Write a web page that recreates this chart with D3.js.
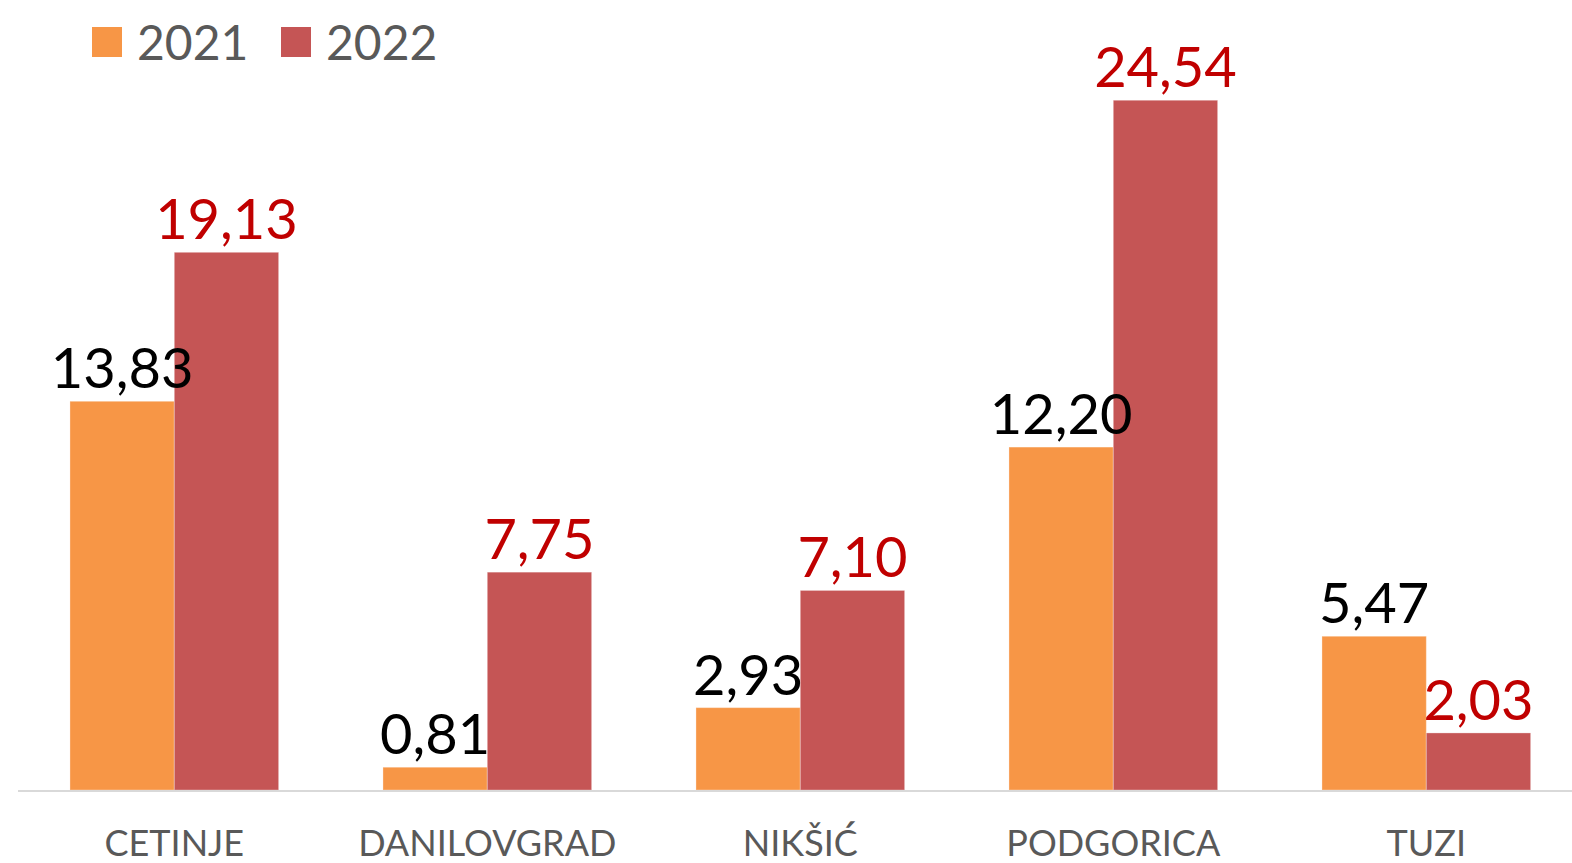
<!DOCTYPE html>
<html>
<head>
<meta charset="utf-8">
<script src="https://cdn.jsdelivr.net/npm/d3@7"></script>
<style>
  body { margin: 0; background: #fff; }
  svg { display: block; }
</style>
</head>
<body>
<div id="chart"></div>
<script>
// data
var categories = ["CETINJE", "DANILOVGRAD", "NIKŠIĆ", "PODGORICA", "TUZI"];
var seriesNames = ["2021", "2022"];
var values2021 = [13.83, 0.81, 2.93, 12.20, 5.47];
var values2022 = [19.13, 7.75, 7.10, 24.54, 2.03];

var colors = ["#F79646", "#C55555"];
var labelColors = ["#000000", "#C00000"];

var w = 1572, h = 863;

var svg = d3.select("#chart").append("svg")
    .attr("width", w)
    .attr("height", h);

//x scale for the towns
var x = d3.scaleBand()
    .domain(categories)
    .range([17.8, 17.8 + 313 * 5])
    .paddingInner(1 / 3)
    .paddingOuter(1 / 6);

//inner scale for the two years
var x1 = d3.scaleBand()
    .domain(seriesNames)
    .range([0, x.bandwidth()]);

var y = d3.scaleLinear()
    .domain([0, 28])
    .range([790, 3]);

var rows = categories.map(function (c, i) {
    return {town: c, vals: [values2021[i], values2022[i]]};
});

var groups = svg.selectAll("g.town")
    .data(rows)
    .enter()
    .append("g")
    .attr("class", "town")
    .attr("transform", function (d) { return "translate(" + x(d.town) + ",0)"; });

groups.selectAll("rect")
    .data(function (d) { return d.vals; })
    .enter()
    .append("rect")
    .attr("x", function (d, i) { return x1(seriesNames[i]); })
    .attr("y", function (d) { return y(d); })
    .attr("width", x1.bandwidth())
    .attr("height", function (d) { return y(0) - y(d); })
    .style("fill", function (d, i) { return colors[i]; })
    .style("stroke", "#ffffff")
    .style("stroke-opacity", 0.3)
    .style("stroke-width", 1);

//baseline
svg.append("line")
    .attr("x1", 18)
    .attr("x2", w)
    .attr("y1", 791)
    .attr("y2", 791)
    .style("stroke", "#D9D9D9")
    .style("stroke-width", 2);

// value labels, drawn after so 2021 labels sit over the red bars
groups.selectAll("text.val")
    .data(function (d) { return d.vals; })
    .enter()
    .append("text")
    .attr("class", "val")
    .attr("x", function (d, i) { return x1(seriesNames[i]) + x1.bandwidth() / 2; })
    .attr("y", function (d) { return y(d) - 13; })
    .attr("text-anchor", "middle")
    .style("font-family", "Lato, 'Noto Sans', sans-serif")
    .style("font-size", "56px")
    .style("fill", function (d, i) { return labelColors[i]; })
    .text(function (d) { return d.toFixed(2).replace(".", ","); });

//category axis labels
svg.append("g")
    .attr("transform", "translate(0,856)")
    .selectAll("text")
    .data(categories)
    .enter()
    .append("text")
    .attr("x", function (d) { return x(d) + x.bandwidth() / 2; })
    .attr("text-anchor", "middle")
    .style("font-family", "Lato, 'Noto Sans', sans-serif")
    .style("font-size", "36px")
    .style("fill", "#595959")
    .text(function (d) { return d; });

//legend
var legendX = [92, 281];
var legend = svg.selectAll("g.legend")
    .data(seriesNames)
    .enter()
    .append("g")
    .attr("class", "legend")
    .attr("transform", function (d, i) { return "translate(" + legendX[i] + ",27)"; });

legend.append("rect")
    .attr("width", 30)
    .attr("height", 30)
    .style("fill", function (d, i) { return colors[i]; });

legend.append("text")
    .attr("x", 45)
    .attr("y", 33)
    .style("font-family", "Lato, 'Noto Sans', sans-serif")
    .style("font-size", "48px")
    .style("fill", "#595959")
    .text(function (d) { return d; });
</script>
</body>
</html>
